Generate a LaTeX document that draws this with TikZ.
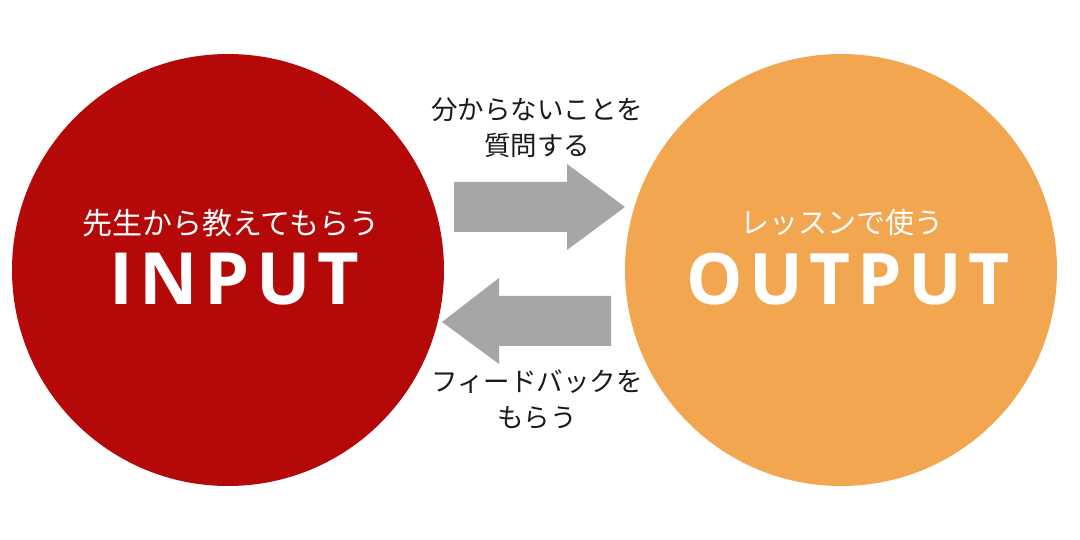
\documentclass[tikz,border=0pt]{standalone}
\usepackage{fontspec}
\usepackage{xcolor}
\newfontfamily\jpfont{Noto Sans CJK JP}
\newfontfamily\titlefont[LetterSpace=9]{Open Sans}
\definecolor{inputRed}{HTML}{B50808}
\definecolor{outputOrange}{HTML}{F2A64F}
\definecolor{arrowGray}{HTML}{A6A6A6}
\definecolor{textBlack}{HTML}{1A1A1A}

\tikzset{
  bigcircle/.style={circle, inner sep=0pt, minimum size=432pt},
  sublabel/.style={font=\jpfont\fontsize{30}{34}\selectfont, text=white},
  titlelabel/.style={font=\titlefont\bfseries\fontsize{71}{80}\selectfont, text=white},
  note/.style={font=\jpfont\fontsize{26.5}{36}\selectfont, text=textBlack, align=center}
}

\begin{document}
\begin{tikzpicture}[x=1pt,y=-1pt]
  \useasboundingbox[fill=white] (0,0) rectangle (1080,540);

  % Input circle
  \node[bigcircle, fill=inputRed] (input) at (228,270) {};
  \node[sublabel] (inputsub) at (231,223) {先生から教えてもらう};
  \node[titlelabel, font=\titlefont\bfseries\fontsize{72}{80}\selectfont] (inputtitle) at (234,279) {INPUT};

  % Output circle
  \node[bigcircle, fill=outputOrange] (output) at (841,270) {};
  \node[sublabel, font=\jpfont\fontsize{29}{34}\selectfont] (outputsub) at (842,223) {レッスンで使う};
  \node[titlelabel] (outputtitle) at (848,279) {OUTPUT};

  % Arrows
  \fill[arrowGray] (454,182) -- (567,182) -- (567,164) -- (625,207)
    -- (567,250) -- (567,232) -- (454,232) -- cycle;
  \fill[arrowGray] (611,296) -- (499,296) -- (499,278) -- (442,322)
    -- (499,364) -- (499,346) -- (611,346) -- cycle;

  % Arrow notes
  \node[note] (ask) at (537,128) {分からないことを\\質問する};
  \node[note] (feedback) at (537,400) {フィードバックを\\もらう};
\end{tikzpicture}
\end{document}
